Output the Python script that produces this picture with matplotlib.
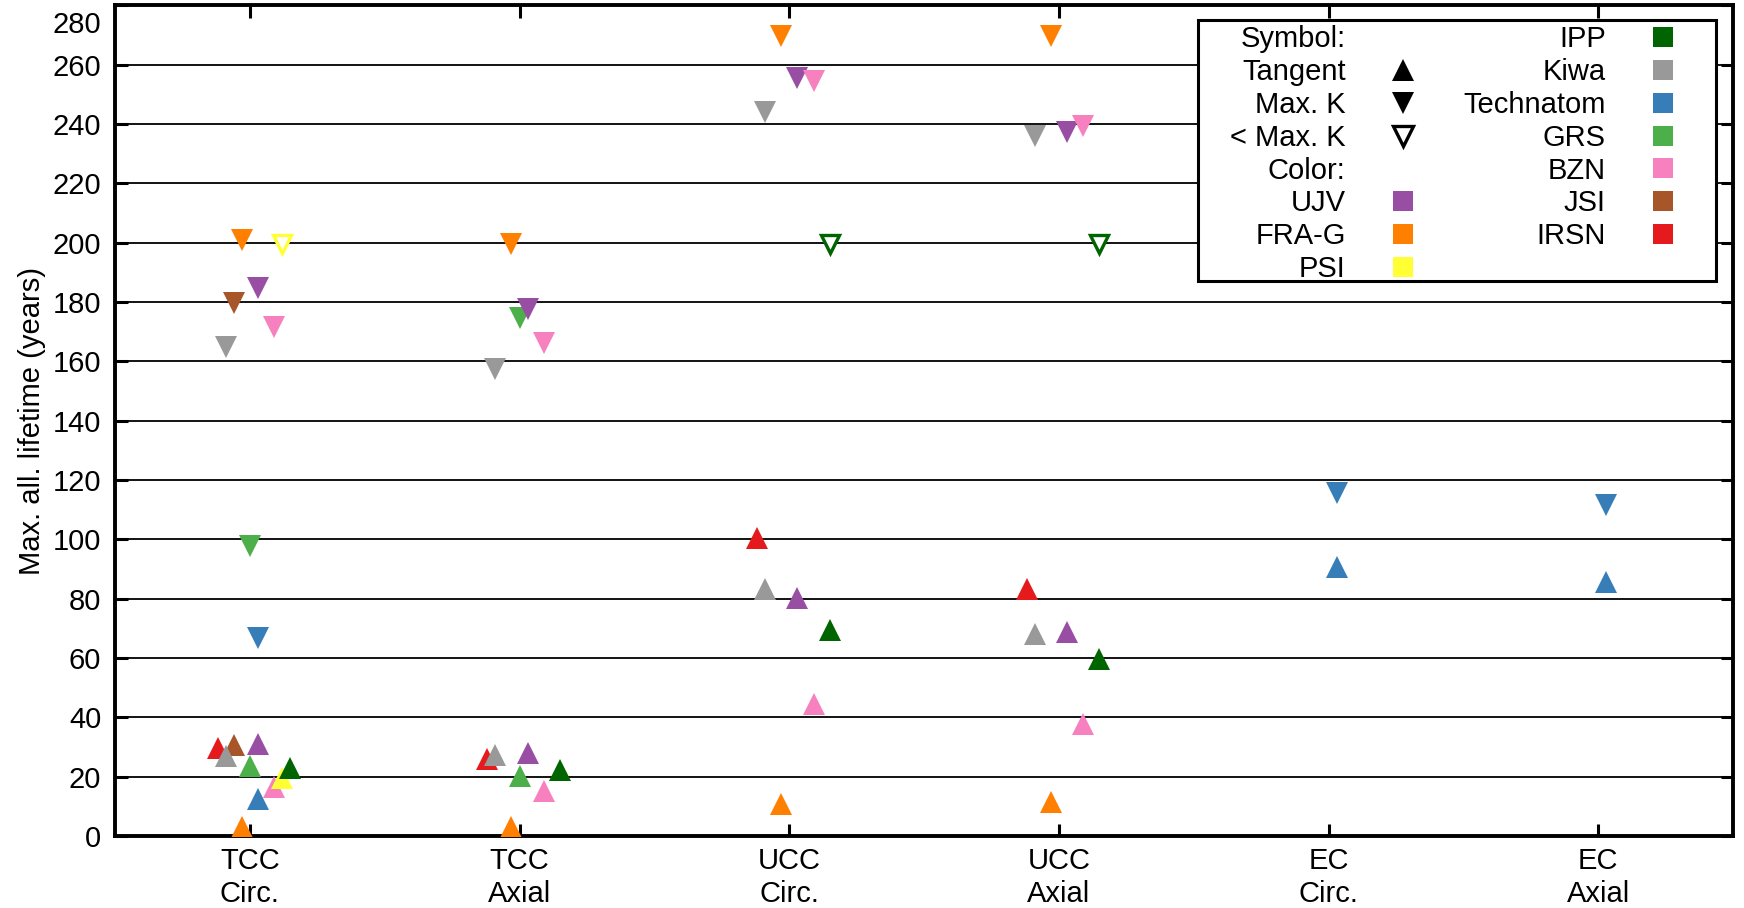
import numpy as np
import matplotlib
matplotlib.use("Agg")
import matplotlib.pyplot as plt
from matplotlib.lines import Line2D
from matplotlib.patches import Rectangle

plt.rcParams['font.family'] = ['Liberation Sans', 'DejaVu Sans']

nan = np.nan
categories = ["TCC\nCirc.", "TCC\nAxial", "UCC\nCirc.", "UCC\nAxial", "EC\nCirc.", "EC\nAxial"]
labs = ["UJV", "FRA-G", "PSI", "IPP", "Kiwa", "Technatom", "GRS", "BZN", "JSI", "IRSN"]

# one row per lab (same order as labs), one column per category
tangent = [
    [30.9, 28.0, 80.3, 68.8, nan, nan],    # UJV
    [2.9, 2.9, 10.7, 11.4, nan, nan],      # FRA-G
    [19.5, nan, nan, nan, nan, nan],       # PSI
    [23.0, 22.2, 69.4, 59.8, nan, nan],    # IPP
    [27.0, 27.2, 83.4, 68.2, nan, nan],    # Kiwa
    [12.5, nan, nan, nan, 90.6, 85.5],     # Technatom
    [23.5, 20.3, nan, nan, nan, nan],      # GRS
    [16.5, 15.2, 44.5, 37.8, nan, nan],    # BZN
    [30.6, nan, nan, nan, nan, nan],       # JSI
    [29.7, 26.1, 100.5, 83.4, nan, nan],   # IRSN
]
max_k = [
    [184.9, 177.8, 255.4, 237.2, nan, nan],
    [200.9, 199.5, 269.6, 269.6, nan, nan],
    [nan, nan, nan, nan, nan, nan],
    [nan, nan, nan, nan, nan, nan],
    [164.8, 157.6, 244.0, 236.0, nan, nan],
    [66.8, nan, nan, nan, 115.6, 111.6],
    [97.7, 174.7, nan, nan, nan, nan],
    [171.6, 166.3, 254.6, 239.4, nan, nan],
    [179.6, nan, nan, nan, nan, nan],
    [nan, nan, nan, nan, nan, nan],
]
below_max_k = [
    [nan] * 6,
    [nan] * 6,
    [199.7, nan, nan, nan, nan, nan],
    [nan, nan, 199.5, 199.5, nan, nan],
    [nan] * 6,
    [nan] * 6,
    [nan] * 6,
    [nan] * 6,
    [nan] * 6,
    [nan] * 6,
]

colors = {"UJV": "#984ea3", "FRA-G": "#ff7f00", "PSI": "#ffff33", "IPP": "#006400",
          "Kiwa": "#999999", "Technatom": "#377eb8", "GRS": "#4daf4a", "BZN": "#f781bf",
          "JSI": "#a65628", "IRSN": "#e41a1c"}
# small horizontal shift per lab so the markers don't sit on top of each other
shift = {"IRSN": -4, "Kiwa": -3, "JSI": -2, "FRA-G": -1, "GRS": 0, "UJV": 1,
         "Technatom": 1, "BZN": 3, "PSI": 4, "IPP": 5}
draw_order = ["IRSN", "JSI", "Kiwa", "FRA-G", "GRS", "UJV", "Technatom", "BZN", "PSI", "IPP"]

fs = 21
fig = plt.figure(figsize=(17.44, 9.08), dpi=100)
ax = fig.add_axes([0.066, 0.0793, 0.9277, 0.9147])

pos = np.arange(1, len(categories) + 1)
ms = 15.5
for lab in draw_order:
    i = labs.index(lab)
    x = pos + shift[lab] * 0.03
    c = colors[lab]
    ax.plot(x, tangent[i], linestyle='none', marker='^', ms=ms, color=c, mew=0, zorder=3)
    ax.plot(x, max_k[i], linestyle='none', marker='v', ms=ms, color=c, mew=0, zorder=3)
    ax.plot(x, below_max_k[i], linestyle='none', marker='v', ms=13.5, mfc='white',
            mec=c, mew=2.4, zorder=3)

ax.set_xlim(0.5, 6.5)
ax.set_ylim(0, 280)
ax.set_xticks(pos)
ax.set_xticklabels(categories, linespacing=1.2)
ax.set_yticks(np.arange(0, 281, 20))
ax.set_yticklabels([str(v) if v < 280 else "" for v in range(0, 281, 20)])
# top label sits a bit lower in the original
ax.annotate("280", xy=(0, 280), xycoords=('axes fraction', 'data'), xytext=(-10, -14),
            textcoords='offset points', ha='right', va='center', fontsize=fs)

ax.tick_params(direction='in', length=9, width=2.2, top=True, right=True,
               labelsize=fs, colors='black')
ax.tick_params(axis='y', pad=10)
ax.tick_params(axis='x', pad=8)
for s in ax.spines.values():
    s.set_linewidth(2.8)
ax.yaxis.grid(True, color='black', lw=1.3)
ax.set_axisbelow(True)
ax.set_ylabel("Max. all. lifetime (years)", fontsize=fs, labelpad=5)

# legend
blank = Line2D([], [], linestyle='none', marker='None')
handles = [blank,
           Line2D([], [], linestyle='none', marker='^', ms=16, color='black', mew=0),
           Line2D([], [], linestyle='none', marker='v', ms=16, color='black', mew=0),
           Line2D([], [], linestyle='none', marker='v', ms=14, mfc='white', mec='black', mew=2.4),
           blank]
names = ["Symbol:", "Tangent", "Max. K", "< Max. K", "Color:"]
for lab in labs:
    handles.append(Line2D([], [], linestyle='none', marker='s', ms=14.4, color=colors[lab], mew=0))
    names.append(lab)

box = Rectangle((0.6693, 0.668), 0.3202, 0.315, transform=ax.transAxes,
                facecolor='white', edgecolor='black', lw=2.2, zorder=5)
ax.add_patch(box)
leg = ax.legend(handles, names, ncols=2, markerfirst=False, frameon=False,
                loc='upper right', bbox_to_anchor=(0.9773, 0.9935), borderpad=0,
                handlelength=1.3, handletextpad=1.3, columnspacing=1.44,
                labelspacing=0.165, fontsize=fs)
leg.set_zorder(6)
for col in leg._legend_handle_box.get_children():
    col.align = "right"

fig.savefig("out.png", dpi=100)
